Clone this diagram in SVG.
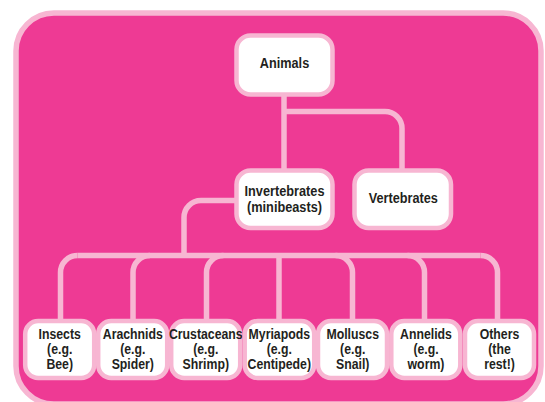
<svg xmlns="http://www.w3.org/2000/svg" width="545" height="402" viewBox="0 0 545 402">
<style>
.frame{fill:#EE3A94;stroke:#F7B6D2;stroke-width:5.5}
.box{fill:#FFFFFF;stroke:#F7B6D2;stroke-width:4.5}
.conn{fill:none;stroke:#F7B6D2;stroke-width:5.5;stroke-linecap:butt}
.t{font-family:"Liberation Sans",Arial,sans-serif;font-weight:bold;font-size:15px;fill:#231F20;text-anchor:middle}
.tl{font-size:15.5px}
</style>
<rect class="frame" x="16" y="13" width="525" height="391" rx="38"/>
<g id="connectors">
<path class="conn" d="M284 96 V170"/>
<path class="conn" d="M284 111.5 H385 A17 17 0 0 1 402 128.5 V170"/>
<path class="conn" d="M236 200.5 H201 A17 17 0 0 0 184 217.5 V255.5"/>
<path class="conn" d="M77.5 255.5 H480.5"/>
<path class="conn" d="M77.5 255.5 A17 17 0 0 0 60.5 272.5 V321"/>
<path class="conn" d="M150 255.5 A17 17 0 0 0 133 272.5 V321"/>
<path class="conn" d="M223.5 255.5 A17 17 0 0 0 206.5 272.5 V321"/>
<path class="conn" d="M279 255.5 V321"/>
<path class="conn" d="M335.5 255.5 A17 17 0 0 1 352.5 272.5 V321"/>
<path class="conn" d="M407.5 255.5 A17 17 0 0 1 424.5 272.5 V321"/>
<path class="conn" d="M480.5 255.5 A17 17 0 0 1 497.5 272.5 V321"/>
</g>
<g id="animals">
<rect class="box" x="236.5" y="35.5" width="96" height="59" rx="14"/>
<text class="t tl" transform="translate(284.5 68.3) scale(0.82 1)">Animals</text>
</g>
<g id="invertebrates">
<rect class="box" x="236.5" y="170.5" width="96" height="57.5" rx="14"/>
<text class="t" transform="translate(284.5 196.3) scale(0.85 1)">Invertebrates</text>
<text class="t" transform="translate(284.5 212.2) scale(0.85 1)">(minibeasts)</text>
</g>
<g id="vertebrates">
<rect class="box" x="354.5" y="170.5" width="96.5" height="57.5" rx="14"/>
<text class="t tl" transform="translate(403.3 203.3) scale(0.82 1)">Vertebrates</text>
</g>
<g id="insects">
<rect class="box" x="25.2" y="321" width="69" height="57" rx="13"/>
<text class="t" transform="translate(59.7 338.7) scale(0.82 1)">Insects</text>
<text class="t" transform="translate(59.7 353.7) scale(0.82 1)">(e.g.</text>
<text class="t" transform="translate(59.7 368.7) scale(0.82 1)">Bee)</text>
</g>
<g id="arachnids">
<rect class="box" x="98.2" y="321" width="69" height="57" rx="13"/>
<text class="t" transform="translate(132.8 338.7) scale(0.82 1)">Arachnids</text>
<text class="t" transform="translate(132.8 353.7) scale(0.82 1)">(e.g.</text>
<text class="t" transform="translate(132.8 368.7) scale(0.82 1)">Spider)</text>
</g>
<g id="crustaceans">
<rect class="box" x="171.2" y="321" width="69" height="57" rx="13"/>
<text class="t" transform="translate(205.8 338.7) scale(0.82 1)">Crustaceans</text>
<text class="t" transform="translate(205.8 353.7) scale(0.82 1)">(e.g.</text>
<text class="t" transform="translate(205.8 368.7) scale(0.82 1)">Shrimp)</text>
</g>
<g id="myriapods">
<rect class="box" x="244.7" y="321" width="69.5" height="57" rx="13"/>
<text class="t" transform="translate(279.3 338.7) scale(0.82 1)">Myriapods</text>
<text class="t" transform="translate(279.3 353.7) scale(0.82 1)">(e.g.</text>
<text class="t" transform="translate(279.3 368.7) scale(0.82 1)">Centipede)</text>
</g>
<g id="molluscs">
<rect class="box" x="318" y="321" width="69" height="57" rx="13"/>
<text class="t" transform="translate(352.7 338.7) scale(0.82 1)">Molluscs</text>
<text class="t" transform="translate(352.7 353.7) scale(0.82 1)">(e.g.</text>
<text class="t" transform="translate(352.7 368.7) scale(0.82 1)">Snail)</text>
</g>
<g id="annelids">
<rect class="box" x="391.3" y="321" width="69" height="57" rx="13"/>
<text class="t" transform="translate(426 338.7) scale(0.82 1)">Annelids</text>
<text class="t" transform="translate(426 353.7) scale(0.82 1)">(e.g.</text>
<text class="t" transform="translate(426 368.7) scale(0.82 1)">worm)</text>
</g>
<g id="others">
<rect class="box" x="465" y="321" width="69" height="57" rx="13"/>
<text class="t" transform="translate(499.5 338.7) scale(0.82 1)">Others</text>
<text class="t" transform="translate(499.5 353.7) scale(0.82 1)">(the</text>
<text class="t" transform="translate(499.5 368.7) scale(0.82 1)">rest!)</text>
</g>
</svg>
